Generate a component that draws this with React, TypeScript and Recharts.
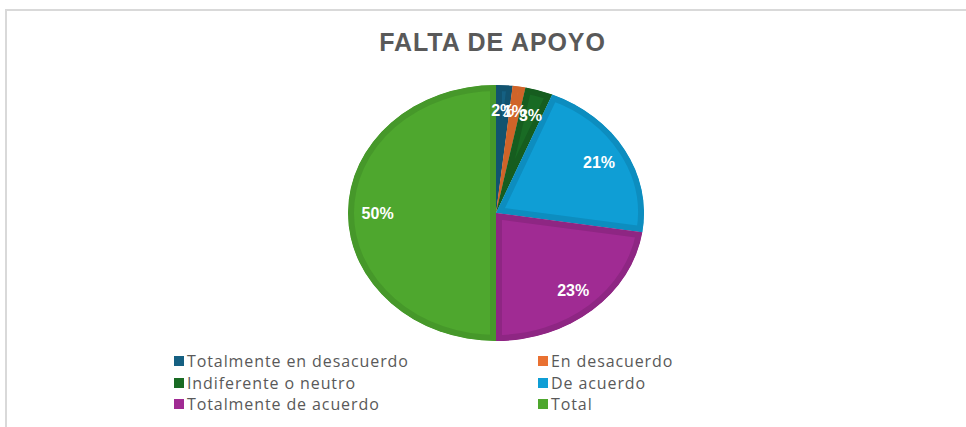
import { PieChart, Pie, Cell, Legend } from 'recharts'

const categories = [
    'Totalmente en desacuerdo',
    'En desacuerdo',
    'Indiferente o neutro',
    'De acuerdo',
    'Totalmente de acuerdo',
    'Total',
]
const values = [1.8, 1.4, 3.0, 21.2, 22.6, 50]
const colors = ['#156082', '#E97132', '#196B24', '#0F9ED5', '#A02B93', '#4EA72E']
const edgeColors = ['#12536f', '#cf6429', '#165d1f', '#0d8dbf', '#8e2683', '#46982a']

const data = categories.map((name, i) => ({ name, value: values[i] }))

const RADIAN = Math.PI / 180
// the original pie is slightly stretched horizontally
const SX = 148 / 128

const ellipsePoint = (cx: number, cy: number, r: number, angle: number) => ({
    x: cx + r * SX * Math.cos(-angle * RADIAN),
    y: cy + r * Math.sin(-angle * RADIAN),
})

const EllipseSector = (props: any) => {
    const { cx, cy, outerRadius, startAngle, endAngle, index } = props
    const p1 = ellipsePoint(cx, cy, outerRadius, startAngle)
    const p2 = ellipsePoint(cx, cy, outerRadius, endAngle)
    const sweep = Math.abs(startAngle - endAngle)
    const large = sweep > 180 ? 1 : 0
    const clockwise = startAngle > endAngle ? 1 : 0
    const d = `M${cx},${cy} L${p1.x},${p1.y} A${outerRadius * SX},${outerRadius} 0 ${large} ${clockwise} ${p2.x},${p2.y} Z`
    const id = `clip-slice-${index}`
    return (
        <g>
            <defs>
                <clipPath id={id}>
                    <path d={d} />
                </clipPath>
            </defs>
            <path
                d={d}
                fill={colors[index]}
                stroke={edgeColors[index]}
                strokeWidth={12}
                clipPath={`url(#${id})`}
            />
        </g>
    )
}

const renderLabel = (props: any) => {
    const { cx, cy, midAngle, outerRadius, percent } = props
    const p = ellipsePoint(cx, cy, outerRadius * 0.8, midAngle)
    return (
        <text
            x={p.x}
            y={p.y}
            fill="#ffffff"
            textAnchor="middle"
            dominantBaseline="central"
            fontFamily="'Liberation Sans', Arial, sans-serif"
            fontWeight="bold"
            fontSize={16}
        >
            {`${Math.round(percent * 100)}%`}
        </text>
    )
}

// legend keeps the data order, two columns
const renderLegend = () => (
    <div style={{ position: 'relative', width: 600, height: 70 }}>
        {categories.map((name, i) => {
            const col = i % 2
            const row = Math.floor(i / 2)
            return (
                <div
                    key={name}
                    style={{
                        position: 'absolute',
                        left: col === 0 ? 0 : 364,
                        top: row * 21.5,
                        display: 'flex',
                        alignItems: 'center',
                        height: 20,
                        fontFamily: "'Open Sans', sans-serif",
                        fontSize: 16,
                        letterSpacing: 0.9,
                        color: '#595959',
                        whiteSpace: 'nowrap',
                    }}
                >
                    <span
                        style={{
                            display: 'inline-block',
                            width: 10,
                            height: 10,
                            background: colors[i],
                            marginRight: 3,
                        }}
                    />
                    {name}
                </div>
            )
        })}
    </div>
)

export default function App() {
    return (
        <div
            style={{
                position: 'absolute',
                left: 0,
                top: 0,
                width: 966,
                height: 427,
                background: '#ffffff',
                overflow: 'hidden',
            }}
        >
            <div
                style={{
                    position: 'absolute',
                    left: 5,
                    top: 9,
                    width: 966,
                    height: 430,
                    borderLeft: '2px solid #d9d9d9',
                    borderTop: '2px solid #d9d9d9',
                }}
            />
            <div
                style={{
                    position: 'absolute',
                    left: 0,
                    top: 28,
                    width: 985,
                    textAlign: 'center',
                    fontFamily: "'Liberation Sans', Arial, sans-serif",
                    fontWeight: 'bold',
                    fontSize: 25,
                    letterSpacing: 0.9,
                    color: '#595959',
                }}
            >
                FALTA DE APOYO
            </div>
            <PieChart width={966} height={427} style={{ position: 'absolute', left: 0, top: 0 }}>
                <Pie
                    data={data}
                    dataKey="value"
                    nameKey="name"
                    cx={491}
                    cy={208}
                    outerRadius={128}
                    startAngle={90}
                    endAngle={-270}
                    stroke="none"
                    labelLine={false}
                    label={renderLabel}
                    shape={EllipseSector}
                    isAnimationActive={false}
                >
                    {data.map((d, i) => (
                        <Cell key={d.name} fill={colors[i]} />
                    ))}
                </Pie>
                <Legend
                    content={renderLegend}
                    wrapperStyle={{ position: 'absolute', left: 174, top: 351, width: 600 }}
                />
            </PieChart>
        </div>
    )
}
